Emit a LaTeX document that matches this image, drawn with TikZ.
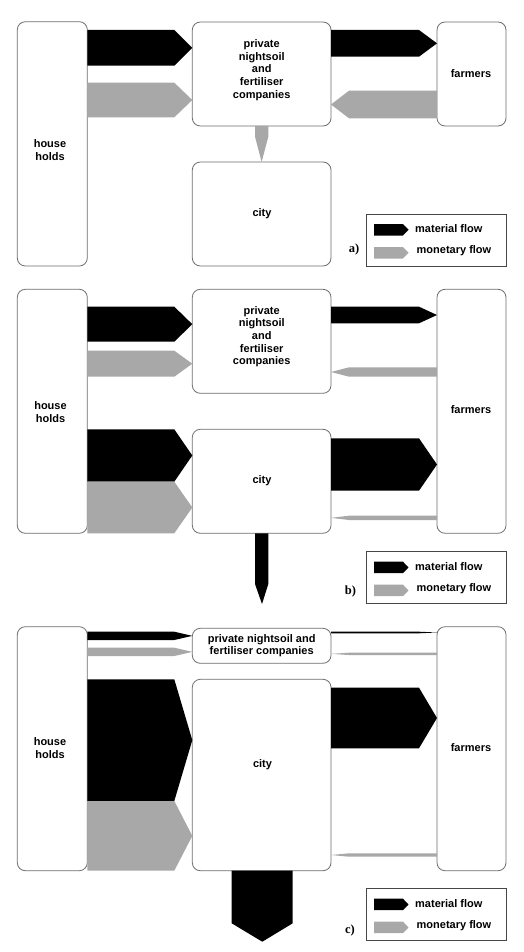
\documentclass[tikz,border=0pt]{standalone}
\usepackage{fontspec}
\setmainfont{Liberation Sans}
\newfontfamily\lblfont{Liberation Serif}
\usetikzlibrary{calc}
\definecolor{flowgray}{RGB}{168,168,168}
\definecolor{boxgray}{RGB}{110,110,110}
\definecolor{leggray}{RGB}{70,70,70}
\tikzset{
  box/.style={draw=boxgray, line width=0.8pt, rounded corners=8pt, fill=white,
    inner sep=0pt, outer sep=0pt, anchor=north west},
  legbox/.style={draw=leggray, line width=0.8pt, fill=white, inner sep=0pt,
    outer sep=0pt, anchor=north west, minimum width=139.3pt, minimum height=52pt},
  txt/.style={font=\fontsize{11}{12.7}\selectfont\bfseries, align=center, inner sep=0pt},
  legtxt/.style={font=\fontsize{11}{12.7}\selectfont\bfseries, anchor=west, inner sep=0pt},
  lbl/.style={font=\lblfont\fontsize{12.5}{14}\selectfont\bfseries, inner sep=0pt},
}
% right-pointing flow from #1.east to #2.west
\newcommand\flowR[5]{%
  \pgfmathsetmacro\ymid{(#3+#4)/2}%
  \fill[#5] (#1.east |- 0,#3) -- ($(#2.west |- 0,#3)+(-18,0)$) -- (#2.west |- 0,\ymid)
    -- ($(#2.west |- 0,#4)+(-18,0)$) -- (#1.east |- 0,#4) -- cycle;}
% left-pointing flow from #1.west to #2.east
\newcommand\flowL[5]{%
  \pgfmathsetmacro\ymid{(#3+#4)/2}%
  \fill[#5] (#1.west |- 0,#3) -- ($(#2.east |- 0,#3)+(18,0)$) -- (#2.east |- 0,\ymid)
    -- ($(#2.east |- 0,#4)+(18,0)$) -- (#1.west |- 0,#4) -- cycle;}
% downward flow from #1.south to tip #2
\newcommand\flowD[6]{%
  \fill[#6] (#1.south -| #3,0) -- (#3,#5) -- (#2) -- (#4,#5) -- (#1.south -| #4,0) -- cycle;}
% legend
\newcommand\legendat[2]{%
  \node[legbox] (#1) at (366.7,#2) {};
  \fill[black] (374,#2+10) -- (403,#2+10) -- (408.5,#2+15.75) -- (403,#2+21.5) -- (374,#2+21.5) -- cycle;
  \fill[flowgray] (374,#2+33) -- (403,#2+33) -- (408.5,#2+38.75) -- (403,#2+44.5) -- (374,#2+44.5) -- cycle;
  \node[legtxt] (#1mat) at (415,#2+15) {material flow};
  \node[legtxt] (#1mon) at (416.5,#2+37) {monetary flow};}
\begin{document}
\begin{tikzpicture}[x=1pt,y=-1pt]
\useasboundingbox[fill=white] (0,0) rectangle (523,952);

% ---------------- panel a ----------------
\node[box, minimum width=70pt, minimum height=244.3pt] (hhA) at (17.3,21.7) {};
\node[box, minimum width=138.7pt, minimum height=104pt] (pcA) at (192.3,22) {};
\node[box, minimum width=69pt, minimum height=104pt] (faA) at (437,22) {};
\node[box, minimum width=138.7pt, minimum height=104pt] (ciA) at (192.3,162) {};
\node[txt] (hhAt) at (50,150.3) {house\\holds};
\node[txt] (pcAt) at (261.7,70) {private\\nightsoil\\and\\fertiliser\\companies};
\node[txt] (faAt) at (471,73.3) {farmers};
\node[txt] (ciAt) at (262,213.3) {city};
\flowR{hhA}{pcA}{30}{65.7}{black}
\flowR{hhA}{pcA}{82.7}{117.3}{flowgray}
\flowR{pcA}{faA}{30}{56.7}{black}
\flowL{faA}{pcA}{90.7}{118.3}{flowgray}
\flowD{pcA}{ciA.north}{255}{268.3}{136.7}{flowgray}
\legendat{legA}{214}
\node[lbl] (labA) at (354,249) {a)};

% ---------------- panel b ----------------
\node[box, minimum width=70pt, minimum height=244pt] (hhB) at (17.3,289.3) {};
\node[box, minimum width=138.7pt, minimum height=104pt] (pcB) at (192.3,289.3) {};
\node[box, minimum width=69pt, minimum height=244pt] (faB) at (437,289.3) {};
\node[box, minimum width=138.7pt, minimum height=104pt] (ciB) at (192.3,429.3) {};
\node[txt] (hhBt) at (50.5,412) {house\\holds};
\node[txt] (pcBt) at (261.7,336.7) {private\\nightsoil\\and\\fertiliser\\companies};
\node[txt] (faBt) at (471,410) {farmers};
\node[txt] (ciBt) at (262,481) {city};
\flowR{hhB}{pcB}{306.7}{341.7}{black}
\flowR{hhB}{pcB}{350.7}{376.7}{flowgray}
\flowR{pcB}{faB}{306.7}{323.3}{black}
\flowL{faB}{pcB}{367.3}{376.7}{flowgray}
\flowR{hhB}{ciB}{429.3}{481.7}{black}
\flowR{hhB}{ciB}{481.7}{533.3}{flowgray}
\flowR{ciB}{faB}{438.3}{490.7}{black}
\flowL{faB}{ciB}{515.7}{520}{flowgray}
\coordinate (endB) at (262,604);
\flowD{ciB}{endB}{255}{268.3}{584}{black}
\legendat{legB}{551.7}
\node[lbl] (labB) at (350.5,591.7) {b)};

% ---------------- panel c ----------------
\node[box, minimum width=70pt, minimum height=244pt] (hhC) at (17.3,626.7) {};
\node[box, minimum width=138.7pt, minimum height=35pt] (pcC) at (192.3,628.3) {};
\node[box, minimum width=69pt, minimum height=244pt] (faC) at (437,626.7) {};
\node[box, minimum width=138.7pt, minimum height=191.4pt] (ciC) at (192.3,679.3) {};
\node[txt] (hhCt) at (50,748) {house\\holds};
\node[txt] (pcCt) at (261.7,645.7) {private nightsoil and\\fertiliser companies};
\node[txt] (faCt) at (471,747.7) {farmers};
\node[txt] (ciCt) at (262.5,764.3) {city};
\flowR{hhC}{pcC}{631.7}{640}{black}
\flowR{hhC}{pcC}{647.7}{656}{flowgray}
\flowR{pcC}{faC}{631.7}{633.3}{black}
\flowL{faC}{pcC}{652.7}{655}{flowgray}
\flowR{hhC}{ciC}{679.3}{801}{black}
\flowR{hhC}{ciC}{801}{870.7}{flowgray}
\flowR{ciC}{faC}{687.7}{748.3}{black}
\flowL{faC}{ciC}{853.3}{856.7}{flowgray}
\coordinate (endC) at (262.3,941.7);
\flowD{ciC}{endC}{231.7}{292.7}{923.3}{black}
\legendat{legC}{888.7}
\node[lbl] (labC) at (350,930) {c)};
\end{tikzpicture}
\end{document}
